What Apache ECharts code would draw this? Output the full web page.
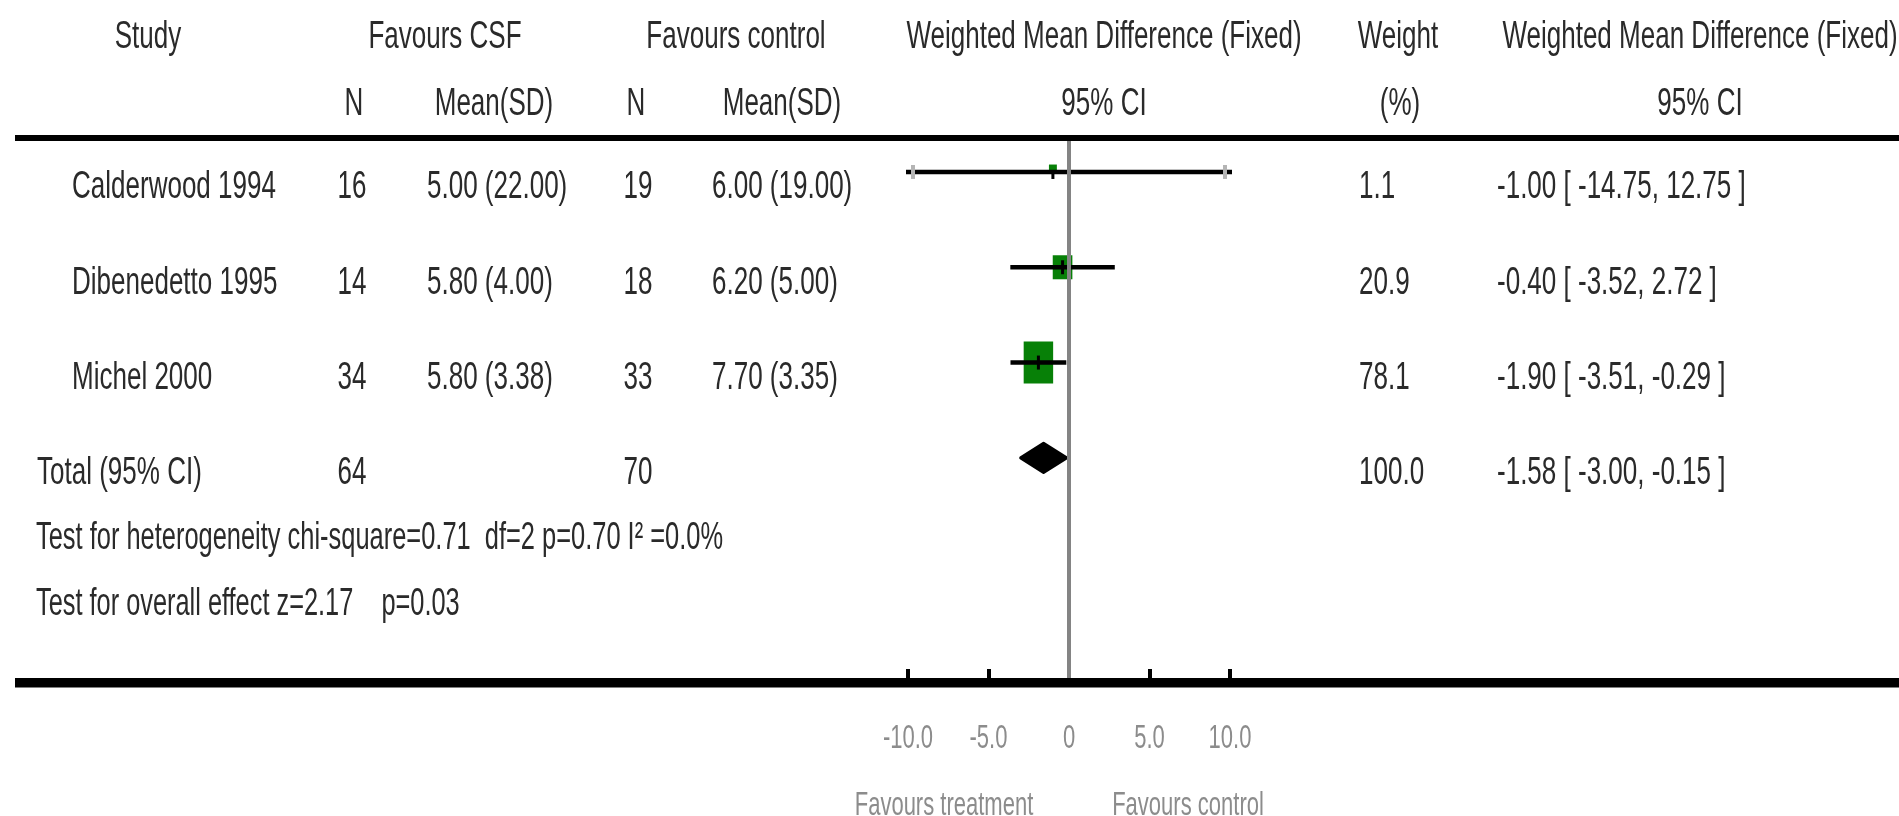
<!DOCTYPE html>
<html><head><meta charset="utf-8">
<script src="https://cdn.jsdelivr.net/npm/echarts@6/dist/echarts.min.js"></script>
<style>html,body{margin:0;padding:0;background:#fff}#c{width:1899px;height:816px}</style>
</head><body><div id="c"></div>
<script>
// ---------------- data ----------------
const studies = ['Calderwood 1994', 'Dibenedetto 1995', 'Michel 2000'];
const nCSF = [16, 14, 34];
const meanCSF = [5.00, 5.80, 5.80];
const sdCSF = [22.00, 4.00, 3.38];
const nCtrl = [19, 18, 33];
const meanCtrl = [6.00, 6.20, 7.70];
const sdCtrl = [19.00, 5.00, 3.35];
const weights = [1.1, 20.9, 78.1];
const wmd = [-1.00, -0.40, -1.90];
const ciLow = [-14.75, -3.52, -3.51];
const ciHigh = [12.75, 2.72, -0.29];
const totalLabel = 'Total (95% CI)';
const totalNCSF = 64;
const totalNCtrl = 70;
const totalWeight = 100.0;
const totalWmd = -1.58;
const totalLow = -3.00;
const totalHigh = -0.15;
const heterogeneityText = 'Test for heterogeneity chi-square=0.71  df=2 p=0.70 I\u00B2 =0.0%';
const overallText = 'Test for overall effect z=2.17    p=0.03';
const headerRow1 = ['Study', 'Favours CSF', 'Favours control', 'Weighted Mean Difference (Fixed)', 'Weight', 'Weighted Mean Difference (Fixed)'];
const headerRow2 = ['N', 'Mean(SD)', 'N', 'Mean(SD)', '95% CI', '(%)', '95% CI'];
const xTicks = [-10, -5, 0, 5, 10];
const xTickLabels = ['-10.0', '-5.0', '0', '5.0', '10.0'];
const axisNames = ['Favours treatment', 'Favours control'];

// ---------------- style / layout ----------------
const FONT = 'Liberation Sans, Arial, sans-serif';
const FS = 39, SX = 0.667, TXT = '#2a2a2a';
const FS_AX = 33, SX_AX = 0.667, AXC = '#8c8c8c';
const X_MIN = -10, X_MAX = 10;
const Y_MIN = -0.325, Y_MAX = 5.31;

function txt(text, x, y, align, o) {
  o = o || {};
  return {
    type: 'text', x: x, y: y, scaleX: o.sx || SX, silent: true,
    style: {
      text: text, x: 0, y: 0,
      fontSize: o.fs || FS, fontFamily: FONT,
      fill: o.color || TXT,
      align: align, textAlign: align,
      verticalAlign: 'middle', textVerticalAlign: 'middle'
    }
  };
}
const f2 = v => v.toFixed(2);
const ciStr = (m, l, h) => f2(m) + ' [ ' + f2(l) + ', ' + f2(h) + ' ]';

// column layout
const COL = { study: 72, total: 37, n1: 352, m1: 427, n2: 638, m2: 712, w: 1359, ci: 1497 };
const H1 = [148, 445, 736, 1104, 1398, 1700];
const H2 = [354, 494, 636, 782, 1104, 1400, 1700];
const ROW_TEXT_DY = 15.5;

const graphics = [];
headerRow1.forEach((t, i) => graphics.push(txt(t, H1[i], 37, 'center')));
headerRow2.forEach((t, i) => graphics.push(txt(t, H2[i], 104, 'center')));
graphics.push({ type: 'rect', shape: { x: 15, y: 135, width: 1884, height: 6 }, style: { fill: '#000' }, silent: true });
graphics.push({ type: 'rect', shape: { x: 15, y: 678, width: 1884, height: 9.5 }, style: { fill: '#000' }, silent: true });
graphics.push(txt(heterogeneityText, 36, 538.5, 'left', { sx: 0.652 }));
graphics.push(txt(overallText, 36, 604.5, 'left', { sx: 0.65 }));

const rowData = studies.map((s, i) => [wmd[i], i, ciLow[i], ciHigh[i], weights[i]]);
const totalData = [[totalWmd, 3, totalLow, totalHigh, totalWeight]];

const chart = echarts.init(document.getElementById('c'), null, { renderer: 'canvas' });
chart.setOption({
  animation: false,
  backgroundColor: '#fff',
  grid: { left: 908, right: 669, top: 141, bottom: 138 },
  xAxis: {
    type: 'value', min: X_MIN, max: X_MAX, interval: 5, position: 'bottom',
    axisLine: { show: false, onZero: false },
    axisTick: { show: true, inside: true, length: 9, lineStyle: { color: '#000', width: 4 } },
    axisLabel: { show: false },
    splitLine: { show: false }
  },
  yAxis: { type: 'value', min: Y_MIN, max: Y_MAX, inverse: true, show: false },
  graphic: { elements: graphics },
  series: [
    { // table text rows
      type: 'custom', silent: true,
      data: studies.map((s, i) => [0, i]).concat([[0, 3]]),
      renderItem: function (params, api) {
        const i = params.dataIndex;
        const y = api.coord([0, i])[1] + ROW_TEXT_DY;
        if (i < studies.length) {
          return { type: 'group', children: [
            txt(studies[i], COL.study, y, 'left'),
            txt(String(nCSF[i]), COL.n1, y, 'center'),
            txt(f2(meanCSF[i]) + ' (' + f2(sdCSF[i]) + ')', COL.m1, y, 'left'),
            txt(String(nCtrl[i]), COL.n2, y, 'center'),
            txt(f2(meanCtrl[i]) + ' (' + f2(sdCtrl[i]) + ')', COL.m2, y, 'left'),
            txt(weights[i].toFixed(1), COL.w, y, 'left'),
            txt(ciStr(wmd[i], ciLow[i], ciHigh[i]), COL.ci, y, 'left')
          ]};
        }
        return { type: 'group', children: [
          txt(totalLabel, COL.total, y, 'left'),
          txt(String(totalNCSF), COL.n1, y, 'center'),
          txt(String(totalNCtrl), COL.n2, y, 'center'),
          txt(totalWeight.toFixed(1), COL.w, y, 'left'),
          txt(ciStr(totalWmd, totalLow, totalHigh), COL.ci, y, 'left')
        ]};
      }
    },
    { // study estimates
      type: 'custom', silent: true,
      data: rowData,
      encode: { x: [0, 2, 3], y: 1 },
      renderItem: function (params, api) {
        const m = api.value(0), r = api.value(1), lo = api.value(2), hi = api.value(3), w = api.value(4);
        const loC = Math.max(lo, X_MIN), hiC = Math.min(hi, X_MAX);
        const p0 = api.coord([loC, r]), p1 = api.coord([hiC, r]), pm = api.coord([m, r]);
        const bw = 7.7 * Math.pow(w, 0.308), bh = 6.6 * Math.pow(w, 0.425);
        const lift = w < 5 ? 4 : 0;
        const ch = [];
        ch.push({ type: 'rect', shape: { x: pm[0] - bw / 2, y: pm[1] - bh / 2 - lift, width: bw, height: bh }, style: { fill: '#078007' } });
        ch.push({ type: 'line', shape: { x1: p0[0] - 2, y1: p0[1], x2: p1[0] + 2, y2: p1[1] }, style: { stroke: '#000', lineWidth: 4.5 } });
        if (lo < X_MIN) ch.push({ type: 'line', shape: { x1: p0[0] + 5, y1: p0[1] - 7, x2: p0[0] + 5, y2: p0[1] + 7 }, style: { stroke: '#b4b4b4', lineWidth: 4 } });
        if (hi > X_MAX) ch.push({ type: 'line', shape: { x1: p1[0] - 5, y1: p1[1] - 7, x2: p1[0] - 5, y2: p1[1] + 7 }, style: { stroke: '#b4b4b4', lineWidth: 4 } });
        ch.push({ type: 'line', shape: { x1: pm[0], y1: pm[1] - (lift ? 0 : 7), x2: pm[0], y2: pm[1] + 7 }, style: { stroke: '#000', lineWidth: 3 } });
        return { type: 'group', children: ch };
      },
      markLine: {
        silent: true, symbol: 'none', label: { show: false },
        lineStyle: { color: '#848484', width: 4, type: 'solid' },
        data: [{ xAxis: 0 }]
      }
    },
    { // pooled diamond
      type: 'custom', silent: true,
      data: totalData,
      encode: { x: [0, 2, 3], y: 1 },
      renderItem: function (params, api) {
        const m = api.value(0), r = api.value(1), lo = api.value(2), hi = api.value(3);
        const pl = api.coord([lo, r]), ph = api.coord([hi, r]), pm = api.coord([m, r]);
        return { type: 'polygon', shape: { points: [[pl[0], pl[1]], [pm[0], pm[1] - 14.5], [ph[0], ph[1]], [pm[0], pm[1] + 14.5]] }, style: { fill: '#000', stroke: '#000', lineWidth: 3, lineJoin: 'round' } };
      }
    },
    { // tick labels & axis names
      type: 'custom', silent: true,
      data: xTicks.map(v => [v, Y_MAX]),
      encode: { x: 0, y: 1 },
      renderItem: function (params, api) {
        const i = params.dataIndex;
        const p = api.coord([api.value(0), api.value(1)]);
        const ch = [txt(xTickLabels[i], p[0], p[1] + 61, 'center', { fs: FS_AX, sx: SX_AX, color: AXC })];
        if (i === 0) {
          const z = api.coord([0, Y_MAX]);
          ch.push(txt(axisNames[0], z[0] - 125, z[1] + 128, 'center', { fs: FS_AX, sx: SX_AX, color: AXC }));
          ch.push(txt(axisNames[1], z[0] + 119, z[1] + 128, 'center', { fs: FS_AX, sx: SX_AX, color: AXC }));
        }
        return { type: 'group', children: ch };
      }
    }
  ]
});
</script>
</body></html>
